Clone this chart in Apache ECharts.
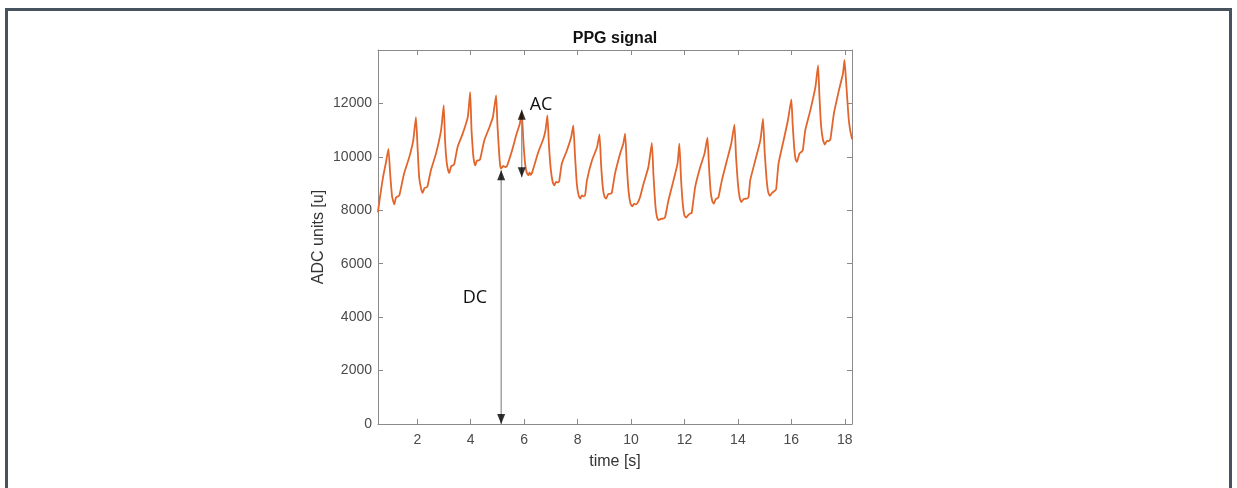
<!DOCTYPE html>
<html>
<head>
<meta charset="utf-8">
<script src="https://cdn.jsdelivr.net/npm/echarts@6/dist/echarts.min.js"></script>
<style>
  html, body { margin: 0; padding: 0; background: #ffffff; overflow: hidden; }
  #chart { position: absolute; left: 0; top: 0; width: 1237px; height: 488px; }
  #frame { position: absolute; left: 5px; top: 8px; width: 1227px; height: 520px; box-sizing: border-box;
           border: 3px solid #46535e; border-bottom: none; pointer-events: none; }
</style>
</head>
<body>
<div id="chart"></div>
<div id="frame"></div>
<script>
// ---- data ----
const timeSec = [
  0.53, 0.62, 0.72, 0.82, 0.92,
  0.99, 1.06, 1.14, 1.20, 1.27, 1.33, 1.50, 1.70, 1.85, 1.95,
  2.01, 2.07, 2.14, 2.20, 2.27, 2.33, 2.38, 2.51, 2.70, 2.89, 2.99,
  3.04, 3.10, 3.15, 3.20, 3.27, 3.33, 3.38, 3.51, 3.70, 3.89, 3.98,
  4.03, 4.09, 4.13, 4.17, 4.23, 4.30, 4.35, 4.51, 4.70, 4.83, 4.95,
  5.00, 5.06, 5.10, 5.14, 5.22, 5.30, 5.35, 5.53, 5.72, 5.84, 5.91,
  5.97, 6.04, 6.10, 6.16, 6.20, 6.24, 6.29, 6.53, 6.72, 6.80, 6.87,
  6.93, 7.00, 7.07, 7.13, 7.19, 7.26, 7.31, 7.41, 7.60, 7.76, 7.84,
  7.90, 7.97, 8.04, 8.10, 8.16, 8.22, 8.28, 8.35, 8.54, 8.73, 8.82,
  8.88, 8.95, 9.01, 9.07, 9.14, 9.22, 9.28, 9.40, 9.59, 9.71, 9.78,
  9.84, 9.91, 9.98, 10.05, 10.12, 10.18, 10.24, 10.34, 10.47, 10.65, 10.78,
  10.84, 10.91, 10.97, 11.03, 11.12, 11.22, 11.28, 11.40, 11.59, 11.74, 11.81,
  11.87, 11.94, 12.00, 12.06, 12.14, 12.21, 12.27, 12.40, 12.59, 12.75, 12.86,
  12.92, 12.98, 13.04, 13.10, 13.16, 13.21, 13.27, 13.40, 13.59, 13.75, 13.87,
  13.93, 14.00, 14.07, 14.13, 14.22, 14.34, 14.40, 14.46, 14.65, 14.84, 14.94,
  15.00, 15.07, 15.13, 15.19, 15.28, 15.37, 15.43, 15.52, 15.71, 15.87, 16.00,
  16.05, 16.11, 16.16, 16.21, 16.30, 16.37, 16.43, 16.52, 16.71, 16.90, 17.00,
  17.05, 17.11, 17.18, 17.25, 17.33, 17.40, 17.46, 17.59, 17.78, 17.93, 17.99,
  18.05, 18.14, 18.20, 18.27
];
const adcValue = [
  7950, 8600, 9250, 9750, 10300,
  9300, 8500, 8220, 8470, 8520, 8560, 9350, 9990, 10620, 11490,
  10370, 9240, 8820, 8650, 8830, 8850, 8890, 9500, 10120, 10990, 11930,
  10600, 9800, 9520, 9400, 9650, 9680, 9720, 10370, 10870, 11490, 12420,
  11000, 10100, 9800, 9680, 9850, 9870, 9900, 10620, 11110, 11490, 12300,
  11200, 10200, 9700, 9560, 9660, 9620, 9640, 10180, 10870, 11250, 11680,
  10600, 9700, 9400, 9310, 9420, 9330, 9390, 10180, 10680, 11000, 11550,
  10400, 9500, 9050, 8930, 9060, 9040, 9080, 9750, 10240, 10740, 11180,
  10100, 9000, 8550, 8440, 8560, 8520, 8560, 9120, 9870, 10370, 10840,
  9700, 8800, 8500, 8440, 8600, 8620, 8650, 9370, 10120, 10490, 10870,
  9700, 8700, 8250, 8150, 8250, 8220, 8270, 8500, 9000, 9620, 10520,
  9300, 8200, 7750, 7630, 7680, 7690, 7760, 8370, 9120, 9750, 10490,
  9200, 8200, 7800, 7730, 7820, 7880, 7900, 8870, 9620, 10120, 10720,
  9600, 8700, 8350, 8250, 8400, 8440, 8480, 9120, 9870, 10490, 11210,
  10000, 9000, 8450, 8310, 8420, 8440, 8500, 9120, 9870, 10620, 11430,
  10200, 9200, 8700, 8540, 8650, 8720, 8780, 9750, 10620, 11360, 12150,
  11200, 10300, 9900, 9810, 10120, 10180, 10250, 10990, 11740, 12610, 13420,
  12300, 11200, 10650, 10460, 10600, 10590, 10650, 11610, 12490, 13110, 13630,
  12800, 11490, 11000, 10680
];
const xTicks = [2, 4, 6, 8, 10, 12, 14, 16, 18];
const yTicks = [0, 2000, 4000, 6000, 8000, 10000, 12000];
const xRange = [0.53, 18.27];
const yRange = [0, 14000];
// annotation arrows: [time, from, to]
const dcArrow = [5.14, 0, 9500];
const acArrow = [5.91, 9240, 11760];
// annotation labels: [time, value, text]
const acLabel = [6.63, 11960, 'AC'];
const dcLabel = [4.16, 4710, 'DC'];
const titleText = 'PPG signal';
const xName = 'time [s]';
const yName = 'ADC units [u]';

// ---- chart ----
const chart = echarts.init(document.getElementById('chart'), null, { renderer: 'canvas' });
const signal = timeSec.map((t, i) => [t, adcValue[i]]);
const axisCol = '#8a8a8a';
const labelCol = '#4a4a4a';
const fontFam = '"Liberation Sans", Arial, Helvetica, sans-serif';

function boxAxis(isX, pos, showLabels) {
  const ticks = isX ? xTicks : yTicks;
  const rng = isX ? xRange : yRange;
  const a = {
    type: 'value', position: pos, min: rng[0], max: rng[1],
    axisLine: { show: true, onZero: false, lineStyle: { color: axisCol, width: 1 } },
    axisTick: { show: true, inside: true, length: 5, customValues: ticks, lineStyle: { color: axisCol } },
    axisLabel: { show: showLabels, customValues: ticks, color: labelCol, fontSize: 14, fontFamily: fontFam,
                 margin: isX ? 9 : 6, formatter: v => String(v) },
    splitLine: { show: false }
  };
  if (showLabels) {
    a.name = isX ? xName : yName;
    a.nameLocation = 'middle';
    a.nameGap = isX ? 30 : 51;
    a.nameTextStyle = { color: '#333', fontSize: 16, fontFamily: fontFam };
  }
  return a;
}

const option = {
  animation: false,
  backgroundColor: '#ffffff',
  title: {
    text: titleText, left: 615, top: 31, textAlign: 'center', padding: 0,
    textStyle: { fontSize: 16, fontWeight: 'bold', color: '#111', fontFamily: fontFam }
  },
  grid: { left: 378, top: 50, width: 474, height: 374, containLabel: false },
  xAxis: [boxAxis(true, 'bottom', true), boxAxis(true, 'top', false)],
  yAxis: [boxAxis(false, 'left', true), boxAxis(false, 'right', false)],
  series: [
    {
      type: 'line', data: signal, showSymbol: false, symbol: 'none', smooth: 0.15,
      lineStyle: { color: '#E2652C', width: 1.8, cap: 'round', join: 'round' }, z: 2
    },
    {
      type: 'line', data: [[dcArrow[0], dcArrow[1]], [dcArrow[0], dcArrow[2]]], symbol: 'none',
      lineStyle: { color: '#8c8c8c', width: 1.2 }, z: 3
    },
    {
      type: 'line', data: [[acArrow[0], acArrow[1]], [acArrow[0], acArrow[2]]], symbol: 'none',
      lineStyle: { color: '#8c8c8c', width: 1.2 }, z: 3
    },
    {
      type: 'scatter', symbol: 'triangle', symbolSize: [8, 10], symbolOffset: [0, 5],
      itemStyle: { color: '#000' }, z: 4,
      data: [[dcArrow[0], dcArrow[2]], [acArrow[0], acArrow[2]]]
    },
    {
      type: 'scatter', symbol: 'triangle', symbolSize: [8, 10], symbolRotate: 180, symbolOffset: [0, -5],
      itemStyle: { color: '#000' }, z: 4,
      data: [[dcArrow[0], dcArrow[1]], [acArrow[0], acArrow[1]]]
    },
    {
      type: 'scatter', symbolSize: 1, itemStyle: { opacity: 0 }, z: 5,
      data: [acLabel, dcLabel].map(l => ({ value: [l[0], l[1]], name: l[2] })),
      label: {
        show: true, position: 'inside', formatter: p => p.name, opacity: 1,
        fontSize: 18, color: '#111', fontFamily: '"Open Sans", "Noto Sans", sans-serif'
      }
    }
  ]
};
chart.setOption(option);
</script>
</body>
</html>
